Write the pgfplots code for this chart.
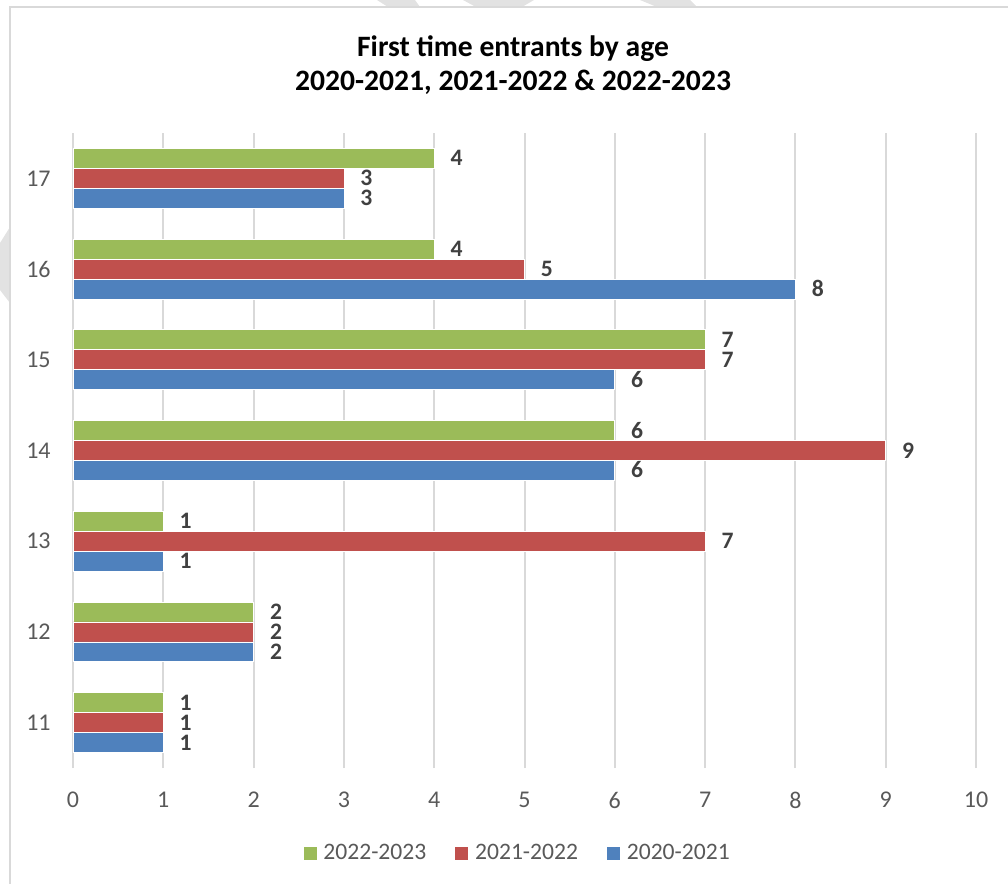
\documentclass[border=0pt]{standalone}
\usepackage{pgfplots}
\pgfplotsset{compat=1.18}
\usepackage{fontspec}
\setmainfont{Carlito}

\definecolor{cblue}{HTML}{4F81BD}
\definecolor{cred}{HTML}{C0504D}
\definecolor{cgreen}{HTML}{9BBB59}
\definecolor{cgrid}{HTML}{D9D9D9}
\definecolor{ctick}{HTML}{595959}
\definecolor{clabel}{HTML}{404040}
\definecolor{cmark}{HTML}{E2E2E2}

\begin{document}
\begin{tikzpicture}
\begin{scope}[x=0.5pt,y=-0.5pt]
  \useasboundingbox (0,0) rectangle (1008,884);
  % faint watermark fragments
  \fill[cmark] (377,0) -- (415,0) -- (420,7) -- (388,7) -- cycle;
  \fill[cmark] (463,0) -- (534,0) -- (522,7) -- (476,7) -- cycle;
  \fill[cmark] (640,0) -- (690,0) -- (697,7) -- (657,7) -- cycle;
  \fill[cmark] (0,243) -- (10,227) -- (10,303) -- (0,290) -- cycle;
  % chart frame
  \draw[cgrid, line width=1pt] (1008,7) -- (10,7) -- (10,884);
  % title
  \node[font=\fontsize{14.8}{17}\selectfont\bfseries, align=center, text=black]
    at (513,65) {First time entrants by age\\2020-2021, 2021-2022 \& 2022-2023};
\end{scope}

\begin{axis}[
  at={(36.5pt,-384pt)}, anchor=south west,
  scale only axis, width=451.5pt, height=317.5pt,
  xbar, bar width=0.22,
  xmin=0, xmax=10, ymin=10.5, ymax=17.5,
  xtick={0,...,10}, ytick={11,...,17},
  xmajorgrids, major grid style={cgrid, line width=1pt},
  axis line style={draw=none},
  major tick length=0pt,
  /pgf/number format/assume math mode=true,
  tick label style={font=\fontsize{12}{14}\selectfont, text=ctick},
  yticklabel style={anchor=east, inner sep=0pt},
  yticklabel shift=11pt,
  xticklabel style={anchor=center, inner sep=0pt},
  xticklabel shift=16pt,
  point meta=x,
  nodes near coords,
  nodes near coords style={font=\fontsize{11.8}{12}\selectfont\bfseries, text=clabel,
    anchor=west, inner sep=0pt, text height=7.5pt, text depth=0pt, xshift=8pt},
  legend columns=3,
  legend style={draw=none, at={(0.493,-0.134)}, anchor=center,
    font=\fontsize{11.8}{14}\selectfont, text=ctick,
    /tikz/every odd column/.append style={column sep=1pt},
    /tikz/every even column/.append style={column sep=12pt}},
  every axis plot post/.append style={
    legend image code/.code={\fill[##1] (0pt,-3.5pt) rectangle (7pt,3.5pt);}},
]
\addplot[fill=cgreen, draw=white, line width=0.4pt, bar shift=0.22]
  coordinates {(4,17) (4,16) (7,15) (6,14) (1,13) (2,12) (1,11)};
\addlegendentry{2022-2023}
\addplot[fill=cred, draw=white, line width=0.4pt, bar shift=0]
  coordinates {(3,17) (5,16) (7,15) (9,14) (7,13) (2,12) (1,11)};
\addlegendentry{2021-2022}
\addplot[fill=cblue, draw=white, line width=0.4pt, bar shift=-0.22]
  coordinates {(3,17) (8,16) (6,15) (6,14) (1,13) (2,12) (1,11)};
\addlegendentry{2020-2021}
\end{axis}
\end{tikzpicture}
\end{document}
